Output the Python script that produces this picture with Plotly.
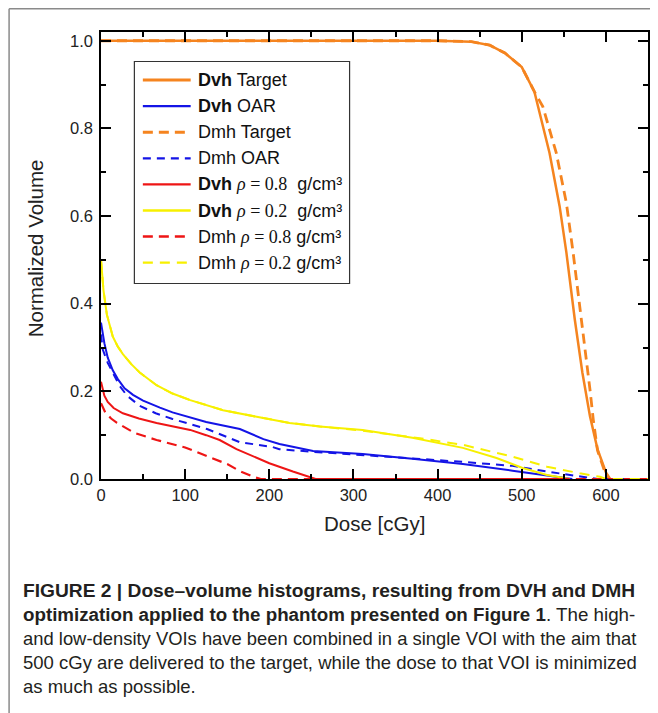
import plotly.graph_objects as go

# ---------------- data ----------------
dvh_target_x = [0, 100, 200, 300, 400, 440, 462, 480, 500, 515, 533, 545, 553, 563, 572, 581, 590, 600, 605]
dvh_target_y = [1.0, 1.0, 1.0, 1.0, 1.0, 0.998, 0.99, 0.972, 0.94, 0.884, 0.744, 0.622, 0.517, 0.364, 0.243, 0.144, 0.068, 0.015, 0.0]

dvh_oar_x = [0, 4, 8, 14, 20, 28, 38, 50, 70, 85, 125, 165, 193, 212, 252, 311, 370, 430, 489, 530, 549, 560]
dvh_oar_y = [0.357, 0.31, 0.277, 0.248, 0.228, 0.207, 0.192, 0.179, 0.163, 0.152, 0.13, 0.114, 0.091, 0.08, 0.064, 0.057, 0.046, 0.034, 0.019, 0.009, 0.004, 0.0]

dmh_target_x = [0, 100, 200, 300, 400, 440, 462, 480, 500, 515, 525, 541, 553, 561, 569, 577, 581, 585, 590, 599, 604]
dmh_target_y = [1.0, 1.0, 1.0, 1.0, 1.0, 0.998, 0.99, 0.972, 0.94, 0.884, 0.85, 0.744, 0.63, 0.517, 0.394, 0.28, 0.205, 0.135, 0.065, 0.015, 0.0]

dmh_oar_x = [0, 2, 8, 14, 22, 31, 46, 65, 85, 126, 165, 204, 212, 252, 311, 370, 430, 489, 530, 560, 581, 590, 650]
dmh_oar_y = [0.33, 0.296, 0.265, 0.243, 0.213, 0.19, 0.167, 0.15, 0.137, 0.114, 0.084, 0.073, 0.068, 0.062, 0.055, 0.047, 0.039, 0.03, 0.017, 0.009, 0.004, 0.0, 0.0]

dvh_r08_x = [0, 4, 8, 15, 26, 45, 66, 106, 125, 141, 161, 185, 200, 228, 248, 255, 557]
dvh_r08_y = [0.222, 0.19, 0.176, 0.162, 0.15, 0.138, 0.128, 0.112, 0.1, 0.089, 0.068, 0.048, 0.036, 0.017, 0.004, 0.0, 0.0]

dvh_r02_x = [0, 3, 7, 14, 20, 26, 36, 46, 66, 85, 106, 145, 185, 224, 260, 311, 370, 430, 470, 501, 530, 549, 557]
dvh_r02_y = [0.5, 0.43, 0.375, 0.325, 0.302, 0.285, 0.262, 0.243, 0.214, 0.195, 0.18, 0.157, 0.142, 0.128, 0.12, 0.112, 0.094, 0.071, 0.048, 0.025, 0.009, 0.003, 0.0]

dmh_r08_x = [0, 5, 12, 19, 40, 66, 100, 130, 150, 165, 181, 190, 650]
dmh_r08_y = [0.173, 0.152, 0.138, 0.128, 0.105, 0.089, 0.072, 0.05, 0.034, 0.018, 0.005, 0.0, 0.0]

dmh_r02_x = [0, 3, 7, 14, 20, 26, 36, 46, 66, 85, 106, 145, 185, 224, 260, 311, 379, 430, 489, 530, 569, 593, 600, 650]
dmh_r02_y = [0.5, 0.43, 0.375, 0.325, 0.302, 0.285, 0.262, 0.243, 0.214, 0.195, 0.18, 0.157, 0.142, 0.128, 0.12, 0.11, 0.093, 0.078, 0.051, 0.028, 0.013, 0.005, 0.0, 0.0]

x_tick_vals = [0, 100, 200, 300, 400, 500, 600]
y_tick_vals = [0.0, 0.2, 0.4, 0.6, 0.8, 1.0]
y_tick_text = ["0.0", "0.2", "0.4", "0.6", "0.8", "1.0"]

series_names = ["Dvh Target", "Dvh OAR", "Dmh Target", "Dmh OAR",
                "Dvh ρ = 0.8 g/cm³", "Dvh ρ = 0.2 g/cm³", "Dmh ρ = 0.8 g/cm³", "Dmh ρ = 0.2 g/cm³"]

RHO = "<span style=\"font-family:'Liberation Serif', 'Times New Roman', serif\"><i>ρ</i> = {}</span>"
legend_labels = [
    "<b>Dvh</b> Target",
    "<b>Dvh</b> OAR",
    "Dmh Target",
    "Dmh OAR",
    "<b>Dvh</b> " + RHO.format("0.8") + "  g/cm³",
    "<b>Dvh</b> " + RHO.format("0.2") + "  g/cm³",
    "Dmh " + RHO.format("0.8") + " g/cm³",
    "Dmh " + RHO.format("0.2") + " g/cm³",
]

ORANGE = "#F5841F"
BLUE = "#1414E6"
RED = "#EE1515"
YELLOW = "#F7F000"

series = [
    (dvh_target_x, dvh_target_y, ORANGE, "solid", 2.5),
    (dvh_oar_x, dvh_oar_y, BLUE, "solid", 2.0),
    (dmh_target_x, dmh_target_y, ORANGE, "10px,6px", 2.8),
    (dmh_oar_x, dmh_oar_y, BLUE, "8px,6px", 2.0),
    (dvh_r08_x, dvh_r08_y, RED, "solid", 2.0),
    (dvh_r02_x, dvh_r02_y, YELLOW, "solid", 2.0),
    (dmh_r08_x, dmh_r08_y, RED, "10px,6px", 2.2),
    (dmh_r02_x, dmh_r02_y, YELLOW, "10px,7px", 2.0),
]

fig = go.Figure()
for (xs, ys, col, dash, w), nm in zip(series, series_names):
    fig.add_trace(go.Scatter(x=xs, y=ys, mode="lines", name=nm, showlegend=False,
                             line=dict(color=col, dash=dash, width=w)))

FONT = "Liberation Sans, Arial, sans-serif"
axis_common = dict(
    showline=True, linecolor="black", linewidth=1.5, mirror="ticks",
    ticks="inside", ticklen=10, tickwidth=1.5, tickcolor="black",
    showgrid=False, zeroline=False,
    tickfont=dict(family=FONT, size=16.5, color="#222"),
)
fig.update_xaxes(range=[0, 650], tickvals=x_tick_vals,
                 minor=dict(dtick=50, tick0=0, ticks="inside", ticklen=5, tickwidth=1.5, tickcolor="black"),
                 ticklabelstandoff=0, **axis_common)
fig.update_yaxes(range=[0, 1.02], tickvals=y_tick_vals, ticktext=y_tick_text,
                 minor=dict(dtick=0.1, tick0=0, ticks="inside", ticklen=5, tickwidth=1.5, tickcolor="black"),
                 ticklabelstandoff=3, **axis_common)

# The page body has an 8 px margin, so the figure is 8 px smaller than the window
OFF = 8
W, H = 650, 705
L, R, T, B = 93, 8, 24, 234
pw, ph = W - L - R, H - T - B


def px(xr):  # reference-picture x pixel -> paper fraction
    return (xr - OFF - L) / pw


def py(yr):  # reference-picture y pixel -> paper fraction
    return (H - B - (yr - OFF)) / ph


annotations = [
    dict(text="Normalized Volume", x=px(35), y=py(248), textangle=-90,
         font=dict(family=FONT, size=20.5, color="#222")),
    dict(text="Dose [cGy]", x=0.5, y=py(523),
         font=dict(family=FONT, size=20.5, color="#222")),
]
caption = [
    ("<b>FIGURE 2 | Dose–volume histograms, resulting from DVH and DMH</b>", 590, 19.2),
    ("<b>optimization applied to the phantom presented on Figure 1</b>. The high-", 614, 18.75),
    ("and low-density VOIs have been combined in a single VOI with the aim that", 638, 18.4),
    ("500 cGy are delivered to the target, while the dose to that VOI is minimized", 662, 18.5),
    ("as much as possible.", 686, 18.5),
]
for txt, yc, fs in caption:
    annotations.append(dict(text=txt, x=px(21), y=py(yc), xanchor="left",
                            font=dict(family=FONT, size=fs, color="#231F20")))

shapes = [
    dict(type="line", xref="paper", yref="paper", x0=px(8.75), x1=px(670), y0=py(8.75), y1=py(8.75),
         line=dict(color="#8a8a8a", width=1.5)),
    dict(type="line", xref="paper", yref="paper", x0=px(8.75), x1=px(8.75), y0=py(8.75), y1=py(720),
         line=dict(color="#8a8a8a", width=1.5)),
]

# ---- legend box (layout decoration; each entry copies its series' line style) ----
LEG_LEFT, LEG_RIGHT, LEG_TOP, LEG_BOTTOM = 134.5, 350.5, 61.5, 283.5
shapes.append(dict(type="rect", xref="paper", yref="paper",
                   x0=px(LEG_LEFT), x1=px(LEG_RIGHT), y0=py(LEG_TOP), y1=py(LEG_BOTTOM),
                   line=dict(color="#333", width=1.2), fillcolor="white", layer="above"))
ROW0, ROW_STEP = 80, 26.1
for i, ((xs, ys, col, dash, w), lab) in enumerate(zip(series, legend_labels)):
    yc = ROW0 + ROW_STEP * i
    shapes.append(dict(type="line", xref="paper", yref="paper", layer="above",
                       x0=px(143), x1=px(191), y0=py(yc), y1=py(yc),
                       line=dict(color=col, dash=dash, width=w + 0.3)))
    annotations.append(dict(text=lab, x=px(196), y=py(yc), xanchor="left",
                            font=dict(family=FONT, size=18, color="#111")))

for a in annotations:
    a.setdefault("xanchor", "center")
    a.update(xref="paper", yref="paper", yanchor="middle", showarrow=False)

fig.update_layout(
    width=W, height=H,
    margin=dict(l=L, r=R, t=T, b=B),
    paper_bgcolor="white", plot_bgcolor="white",
    annotations=annotations, shapes=shapes,
    showlegend=False,
)

fig.write_html("out.html")
